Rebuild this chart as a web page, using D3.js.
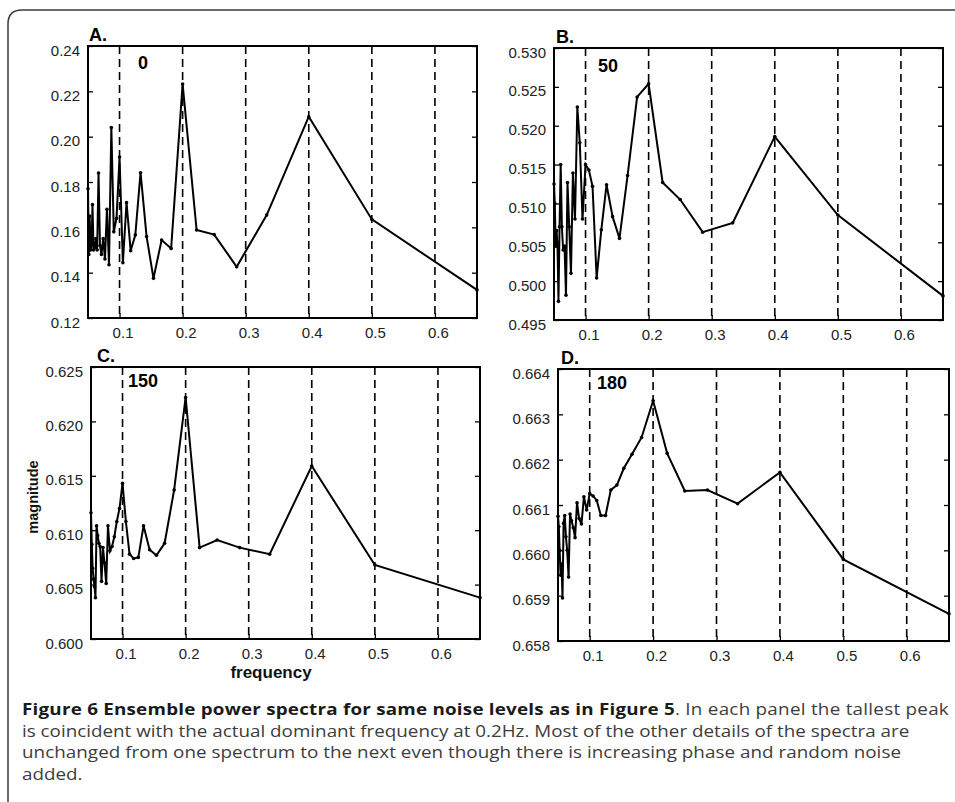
<!DOCTYPE html>
<html>
<head>
<meta charset="utf-8">
<script src="https://cdn.jsdelivr.net/npm/d3@7"></script>
<style>
  body { margin: 0; background: #fff; }
  svg { display: block; }
</style>
</head>
<body>
<div id="chart"></div>
<script>
// frequency bins (Hz), low to high
const frequency = [
  0.05, 0.0513, 0.0526, 0.0541, 0.0556, 0.0571, 0.0588, 0.0606, 0.0625, 0.0645,
  0.0667, 0.069, 0.0714, 0.0741, 0.0769, 0.08, 0.0833, 0.087, 0.0909, 0.0952,
  0.1, 0.1053, 0.1111, 0.1176, 0.125, 0.1333, 0.1429, 0.1538, 0.1667, 0.1818,
  0.2, 0.2222, 0.25, 0.2857, 0.3333, 0.4, 0.5, 0.6667
]

const magnitudeA = [
  0.177, 0.148, 0.165, 0.150, 0.152, 0.170, 0.150, 0.151, 0.155, 0.150,
  0.184, 0.152, 0.148, 0.155, 0.146, 0.168, 0.1435, 0.204, 0.158, 0.164,
  0.191, 0.1444, 0.1709, 0.1497, 0.1566, 0.1841, 0.1559, 0.1375, 0.1544, 0.1507,
  0.2232, 0.1588, 0.1568, 0.1426, 0.1654, 0.2088, 0.1635, 0.1324
]
const magnitudeB = [
  0.5125, 0.510, 0.5045, 0.5065, 0.5045, 0.4974, 0.507, 0.515, 0.507, 0.504,
  0.5045, 0.4982, 0.5127, 0.507, 0.501, 0.5139, 0.508, 0.5224, 0.5178, 0.508,
  0.515, 0.5143, 0.5122, 0.5004, 0.5066, 0.5124, 0.5083, 0.5055, 0.5136, 0.5237,
  0.5254, 0.5127, 0.5105, 0.5063, 0.5075, 0.5186, 0.5085, 0.4981
]
const magnitudeC = [
  0.6116, 0.6087, 0.6065, 0.6055, 0.6048, 0.6038, 0.6104, 0.6095, 0.6088, 0.6085,
  0.6053, 0.6084, 0.6070, 0.6051, 0.6104, 0.6081, 0.6085, 0.6094, 0.6108, 0.6120,
  0.6143, 0.6108, 0.6078, 0.6074, 0.6075, 0.6104, 0.6082, 0.6077, 0.6088, 0.6137,
  0.6222, 0.6084, 0.6091, 0.6084, 0.6078, 0.6159, 0.6068, 0.6038
]
const magnitudeD = [
  0.66075, 0.66052, 0.6600, 0.65945, 0.6597, 0.65895, 0.6606, 0.66077, 0.6603, 0.6600,
  0.65941, 0.6608, 0.66065, 0.6605, 0.66028, 0.66105, 0.6607, 0.66058, 0.66118, 0.66089,
  0.66125, 0.6612, 0.6611, 0.66077, 0.66077, 0.66133, 0.66144, 0.66181, 0.66212, 0.66249,
  0.6633, 0.66214, 0.66131, 0.66133, 0.66103, 0.66172, 0.6598, 0.6586
]

const panelLabels = ['A.', 'B.', 'C.', 'D.']
const noiseLabels = ['0', '50', '150', '180']

const xTicks = [0.1, 0.2, 0.3, 0.4, 0.5, 0.6]
const xDomain = [0.05, 0.6667]
const yTicksA = [0.12, 0.14, 0.16, 0.18, 0.20, 0.22, 0.24]
const yTicksB = [0.495, 0.500, 0.505, 0.510, 0.515, 0.520, 0.525, 0.530]
const yTicksC = [0.600, 0.605, 0.610, 0.615, 0.620, 0.625]
const yTicksD = [0.658, 0.659, 0.660, 0.661, 0.662, 0.663, 0.664]

const captionBold = 'Figure 6 Ensemble power spectra for same noise levels as in Figure 5'
const captionLines = [
  '. In each panel the tallest peak',
  'is coincident with the actual dominant frequency at 0.2Hz. Most of the other details of the spectra are',
  'unchanged from one spectrum to the next even though there is increasing phase and random noise',
  'added.'
]

// ---- layout ----
const width = 955
const height = 802
const tickFont = '"Liberation Sans", Arial, sans-serif'

const panels = [
  { values: magnitudeA, yTicks: yTicksA, box: { x: 88, y: 46, w: 389, h: 272 }, note: { dx: 50, dy: 23 }, labelDx: 1 },
  { values: magnitudeB, yTicks: yTicksB, box: { x: 554, y: 48, w: 389, h: 272 }, note: { dx: 44, dy: 24 }, labelDx: 2 },
  { values: magnitudeC, yTicks: yTicksC, box: { x: 91, y: 367, w: 389, h: 272 }, note: { dx: 37, dy: 20 }, labelDx: 6 },
  { values: magnitudeD, yTicks: yTicksD, box: { x: 558, y: 369, w: 391, h: 272 }, note: { dx: 39, dy: 20 }, labelDx: 3 }
]

const svg = d3.select('#chart')
  .append('svg')
  .attr('width', width)
  .attr('height', height)
  .style('background', '#fff')

// figure frame (left and top edge with rounded corner)
svg.append('path')
  .attr('d', 'M8,802 L8,24 Q8,10 22,10 L955,10')
  .attr('fill', 'none')
  .attr('stroke', '#3a3a3a')
  .attr('stroke-width', 1.5)

function drawPanel (p, idx) {
  const b = p.box
  const g = svg.append('g')
    .classed('panel', true)
    .attr('transform', `translate(${b.x},${b.y})`)

  const x = d3.scaleLinear().domain(xDomain).range([0, b.w])
  const y = d3.scaleLinear().domain(d3.extent(p.yTicks)).range([b.h, 0])
  const step = p.yTicks[1] - p.yTicks[0]
  const fmt = d3.format(`.${d3.precisionFixed(step)}f`)

  // dashed frequency guides
  g.append('g')
    .selectAll('line')
    .data(xTicks)
    .join('line')
    .attr('x1', d => x(d))
    .attr('x2', d => x(d))
    .attr('y1', 0)
    .attr('y2', b.h)
    .attr('stroke', '#000')
    .attr('stroke-width', 1.6)
    .attr('stroke-dasharray', '8,5')

  // left axis with inward ticks
  const yAxis = d3.axisLeft(y).tickValues(p.yTicks).tickFormat(fmt)
    .tickSizeInner(-5).tickSizeOuter(0).tickPadding(8)
  const ya = g.append('g').call(yAxis)
  ya.select('.domain').remove()
  ya.selectAll('line').attr('stroke', '#000').attr('stroke-width', 1.3)
  ya.selectAll('text')
    .attr('dy', null)
    .attr('y', 9)
    .style('font-family', tickFont)
    .style('font-size', '15px')
    .attr('fill', '#222')

  // right axis ticks only
  const ra = g.append('g')
    .attr('transform', `translate(${b.w},0)`)
    .call(d3.axisRight(y).tickValues(p.yTicks).tickFormat('').tickSizeInner(-5).tickSizeOuter(0))
  ra.select('.domain').remove()
  ra.selectAll('line').attr('stroke', '#000').attr('stroke-width', 1.3)

  // bottom axis
  const xAxis = d3.axisBottom(x).tickValues(xTicks).tickFormat(d3.format('.1f'))
    .tickSizeInner(-5).tickSizeOuter(0).tickPadding(9)
  const xa = g.append('g')
    .attr('transform', `translate(0,${b.h})`)
    .call(xAxis)
  xa.select('.domain').remove()
  xa.selectAll('line').attr('stroke', '#000').attr('stroke-width', 1.3)
  xa.selectAll('text')
    .attr('x', 3)
    .style('font-family', tickFont)
    .style('font-size', '15px')
    .attr('fill', '#222')

  // spectrum line
  const points = frequency.map((f, i) => ({ f, v: p.values[i] }))
  const line = d3.line().x(d => x(d.f)).y(d => y(d.v))
  g.append('path')
    .datum(points)
    .attr('d', line)
    .attr('fill', 'none')
    .attr('stroke', '#000')
    .attr('stroke-width', 2)
    .attr('stroke-linejoin', 'miter')

  g.append('g')
    .selectAll('circle')
    .data(points)
    .join('circle')
    .attr('cx', d => x(d.f))
    .attr('cy', d => y(d.v))
    .attr('r', 1.8)
    .attr('fill', '#000')

  // plot box
  g.append('rect')
    .attr('width', b.w)
    .attr('height', b.h)
    .attr('fill', 'none')
    .attr('stroke', '#000')
    .attr('stroke-width', 2)

  // panel letter
  g.append('text')
    .attr('x', p.labelDx)
    .attr('y', -5)
    .text(panelLabels[idx])
    .style('font-family', tickFont)
    .style('font-weight', 'bold')
    .style('font-size', '18px')
    .attr('fill', '#000')

  // noise level annotation
  g.append('text')
    .attr('x', p.note.dx)
    .attr('y', p.note.dy)
    .text(noiseLabels[idx])
    .style('font-family', tickFont)
    .style('font-weight', 'bold')
    .style('font-size', '18px')
    .attr('fill', '#000')
}

panels.forEach(drawPanel)

// axis titles
svg.append('text')
  .attr('transform', 'translate(38,497) rotate(-90)')
  .attr('text-anchor', 'middle')
  .text('magnitude')
  .style('font-family', tickFont)
  .style('font-weight', 'bold')
  .style('font-size', '14.5px')
  .attr('fill', '#111')

svg.append('text')
  .attr('x', 271)
  .attr('y', 678)
  .attr('text-anchor', 'middle')
  .text('frequency')
  .style('font-family', tickFont)
  .style('font-weight', 'bold')
  .style('font-size', '17px')
  .attr('fill', '#111')

// caption: the block is squeezed horizontally so line 2 matches the reference,
// then each segment gets a small letter-spacing tweak to hit its right edge
const captionFont = '"Open Sans", "Noto Sans", sans-serif'
const captionSize = 16.3
const baselines = [715, 737, 758.5, 780]
const captionLeft = 22
const caption = svg.append('g').classed('caption', true)

const first = caption.append('text')
  .attr('y', baselines[0])
  .style('font-family', captionFont)
  .style('font-size', `${captionSize}px`)
const boldSpan = first.append('tspan').text(captionBold).style('font-weight', 'bold').attr('fill', '#1a1a1a')
const restSpan = first.append('tspan').text(captionLines[0]).attr('fill', '#3c3c3c')

const others = captionLines.slice(1).map((t, i) => caption.append('text')
  .attr('y', baselines[i + 1])
  .text(t)
  .style('font-family', captionFont)
  .style('font-size', `${captionSize}px`)
  .attr('fill', '#3c3c3c'))

const squeeze = (909 - captionLeft) / others[0].node().getComputedTextLength()
caption.attr('transform', `translate(${captionLeft},0) scale(${squeeze},1)`)

function fitSpacing (sel, target) {
  const w = sel.node().getComputedTextLength()
  const n = sel.text().length
  sel.style('letter-spacing', `${(target / squeeze - w) / n}px`)
}
fitSpacing(boldSpan, 675 - captionLeft)
fitSpacing(restSpan, 949 - 675)
fitSpacing(others[1], 901 - captionLeft)
</script>
</body>
</html>
